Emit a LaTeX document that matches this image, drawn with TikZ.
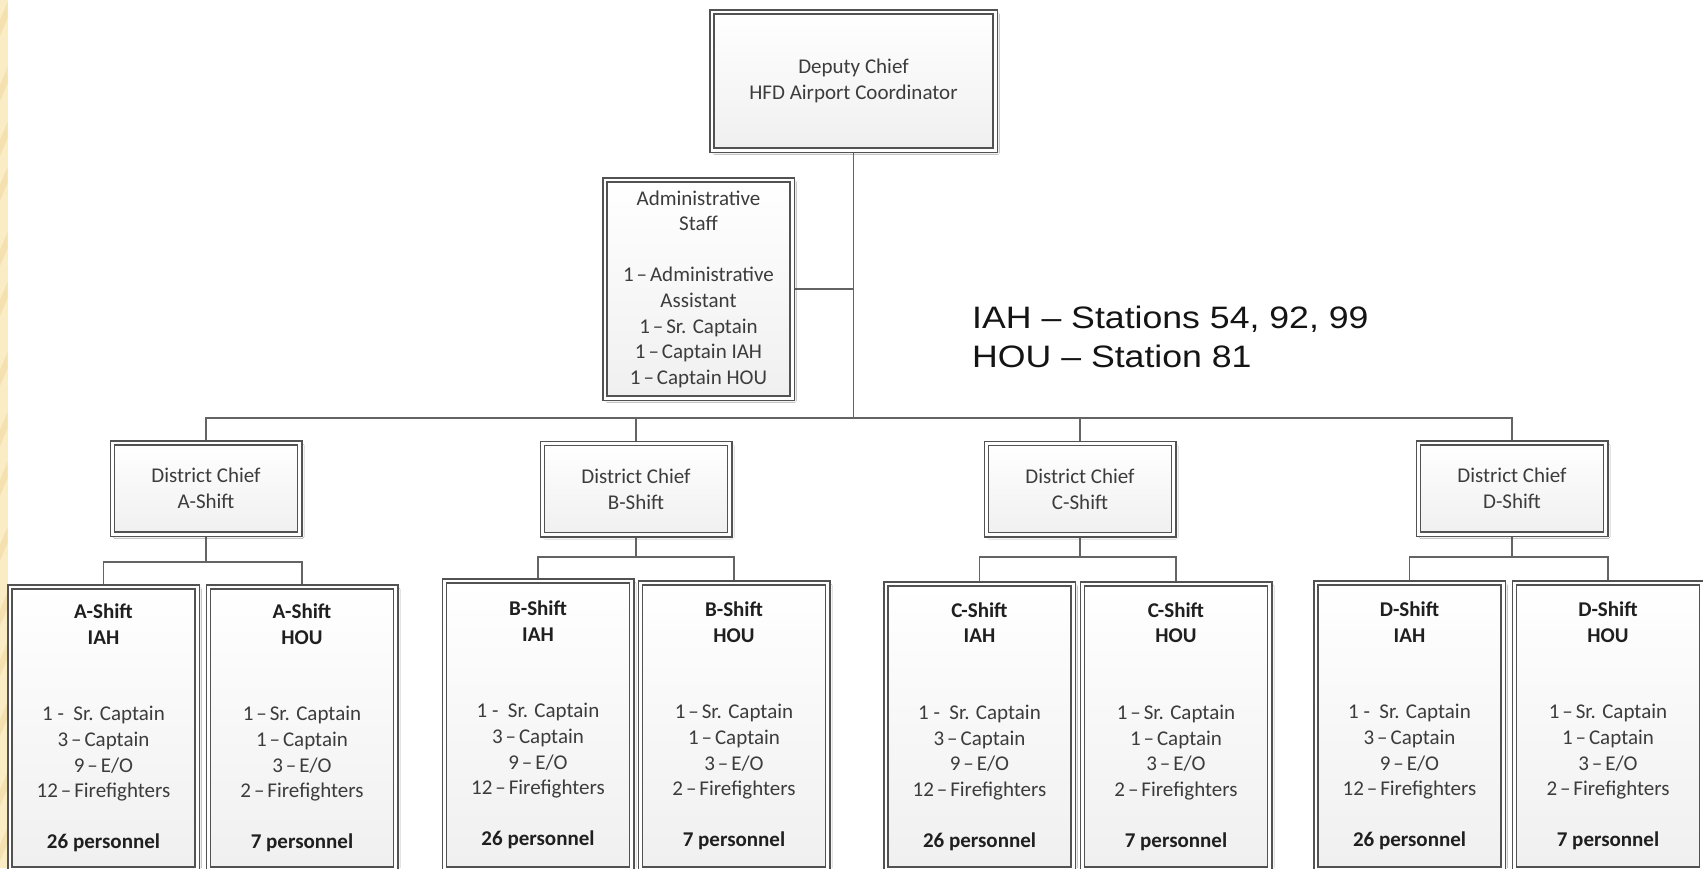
\documentclass[tikz,border=0pt]{standalone}
\usepackage{fontspec}
\setmainfont{Carlito}
\newfontfamily\notefont{Liberation Sans}
\usetikzlibrary{shadows.blur,backgrounds,calc}
\definecolor{lc}{RGB}{82,82,82}
\definecolor{cc}{RGB}{100,100,100}
\definecolor{tc}{RGB}{60,60,60}
\definecolor{goldA}{RGB}{250,236,196}
\definecolor{goldB}{RGB}{237,213,150}
\newcommand\bhd[1]{\textbf{\color{black!88}#1}}
\newcommand\dsh{\hspace{0.14em}–\hspace{0.14em}}
\tikzset{
  box/.style={draw=lc, line width=1.5pt, double=white, double distance=2.6pt,
    top color=white, bottom color=black!6, inner sep=0pt, align=center, text=tc,
    font=\fontsize{21}{25.6}\selectfont,
    blur shadow={shadow xshift=2.5pt, shadow yshift=-2.5pt, shadow opacity=22, shadow blur steps=4}},
  chiefbox/.style={box, minimum width=187.4pt, minimum height=91.4pt},
  unitbox/.style={box, minimum width=187.4pt},
  conn/.style={draw=cc, line width=1.5pt},
  note/.style={font=\notefont\fontsize{31}{39}\selectfont, text=black!92, inner sep=0pt, anchor=base west}
}
\begin{document}
\begin{tikzpicture}[x=1pt,y=-1pt]
\useasboundingbox (0,0) rectangle (1703,868);
\clip (0,0) rectangle (1703,868);

% top
\node[box, minimum width=283.4pt, minimum height=138.4pt] (top) at (853.5,81) {Deputy Chief\\HFD Airport Coordinator};
\node[box, minimum width=187.4pt, minimum height=218.4pt] (admin) at (698.5,289) {Administrative\\Staff\\~\\1\dsh Administrative\\Assistant\\1\dsh Sr. Captain\\1\dsh Captain IAH\\1\dsh Captain HOU};

% note
\node[note] (note1) at (972,328) {\scalebox{1.15}[1]{IAH – Stations 54, 92, 99}};
\node[note] (note2) at (972,367) {\scalebox{1.15}[1]{HOU – Station 81}};

% district chiefs
\node[chiefbox] (chiefA) at (206,488.5) {District Chief\\A-Shift};
\node[chiefbox] (chiefB) at (636,489) {District Chief\\B-Shift};
\node[chiefbox] (chiefC) at (1080,489) {District Chief\\C-Shift};
\node[chiefbox] (chiefD) at (1512,488.5) {District Chief\\D-Shift};

% shift units
\node[unitbox, minimum height=282.4pt] (aiah) at (103.5,728) {\bhd{A-Shift}\\\bhd{IAH}\\~\\~\\1 -\ \ Sr. Captain\\3\dsh Captain\\9\dsh E/O\\12\dsh Firefighters\\~\\\bhd{26 personnel}};
\node[unitbox, minimum height=282.4pt] (ahou) at (302,728) {\bhd{A-Shift}\\\bhd{HOU}\\~\\~\\1\dsh Sr. Captain\\1\dsh Captain\\3\dsh E/O\\2\dsh Firefighters\\~\\\bhd{7 personnel}};
\node[unitbox, minimum height=288.4pt] (biah) at (538,725) {\bhd{B-Shift}\\\bhd{IAH}\\~\\~\\1 -\ \ Sr. Captain\\3\dsh Captain\\9\dsh E/O\\12\dsh Firefighters\\~\\\bhd{26 personnel}};
\node[unitbox, minimum height=286.4pt] (bhou) at (734,726) {\bhd{B-Shift}\\\bhd{HOU}\\~\\~\\1\dsh Sr. Captain\\1\dsh Captain\\3\dsh E/O\\2\dsh Firefighters\\~\\\bhd{7 personnel}};
\node[unitbox, minimum height=285.4pt] (ciah) at (979.5,726.5) {\bhd{C-Shift}\\\bhd{IAH}\\~\\~\\1 -\ \ Sr. Captain\\3\dsh Captain\\9\dsh E/O\\12\dsh Firefighters\\~\\\bhd{26 personnel}};
\node[unitbox, minimum height=285.4pt] (chou) at (1176,726.5) {\bhd{C-Shift}\\\bhd{HOU}\\~\\~\\1\dsh Sr. Captain\\1\dsh Captain\\3\dsh E/O\\2\dsh Firefighters\\~\\\bhd{7 personnel}};
\node[unitbox, minimum height=286.4pt] (diah) at (1409.5,726) {\bhd{D-Shift}\\\bhd{IAH}\\~\\~\\1 -\ \ Sr. Captain\\3\dsh Captain\\9\dsh E/O\\12\dsh Firefighters\\~\\\bhd{26 personnel}};
\node[unitbox, minimum height=286.4pt] (dhou) at (1608,726) {\bhd{D-Shift}\\\bhd{HOU}\\~\\~\\1\dsh Sr. Captain\\1\dsh Captain\\3\dsh E/O\\2\dsh Firefighters\\~\\\bhd{7 personnel}};

\coordinate (bus) at (853.5,418);
\coordinate (ja) at (206,562);
\coordinate (jb) at (636,557);
\coordinate (jc) at (1080,557);
\coordinate (jd) at (1512,557);

\begin{pgfonlayer}{background}
\fill[white] (0,0) rectangle (1703,868);
\fill[goldA] (0,0) rectangle (7.5,868);
\foreach \s in {20,85,140,185,250,300,370,430,480,545,610,660,720,790,845}
  \fill[goldB, opacity=0.45] (0,\s) -- (7.5,\s-18) -- (7.5,\s-2) -- (0,\s+16) -- cycle;
\draw[conn] (top.south) -- (bus);
\draw[conn] (admin.east) -- (admin.east -| bus);
\draw[conn] (chiefA.north) -- (chiefA.north |- bus) -- (chiefD.north |- bus) -- (chiefD.north);
\draw[conn] (chiefB.north) -- (chiefB.north |- bus);
\draw[conn] (chiefC.north) -- (chiefC.north |- bus);
\draw[conn] (chiefA.south) -- (ja);
\draw[conn] (aiah.north) |- (ja) -| (ahou.north);
\draw[conn] (chiefB.south) -- (jb);
\draw[conn] (biah.north) |- (jb) -| (bhou.north);
\draw[conn] (chiefC.south) -- (jc);
\draw[conn] (ciah.north) |- (jc) -| (chou.north);
\draw[conn] (chiefD.south) -- (jd);
\draw[conn] (diah.north) |- (jd) -| (dhou.north);
\end{pgfonlayer}
\end{tikzpicture}
\end{document}
